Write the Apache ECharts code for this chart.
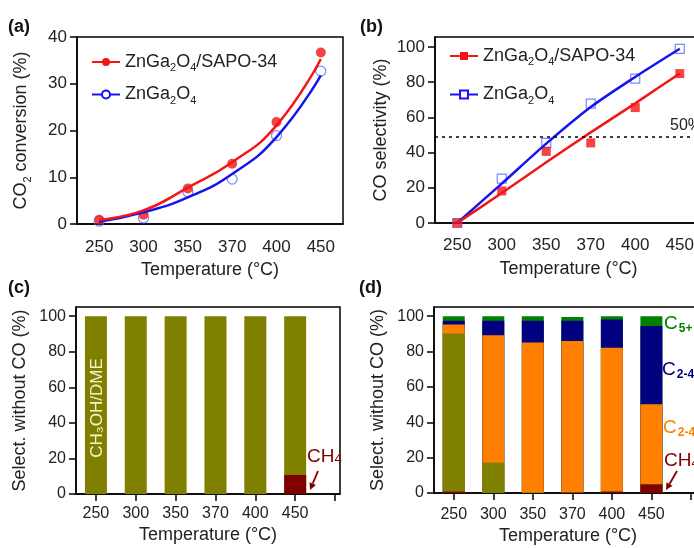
<!DOCTYPE html>
<html>
<head>
<meta charset="utf-8">
<script src="https://cdn.jsdelivr.net/npm/echarts@6/dist/echarts.min.js"></script>
<style>
html, body { margin: 0; padding: 0; background: #fff; }
#chart { width: 694px; height: 548px; }
</style>
</head>
<body>
<div id="chart"></div>
<script>
// temperatures (categories)
const temps = ['250', '300', '350', '370', '400', '450'];

// (a) CO2 conversion, measured points and fitted curves
const convHybridPts = [0.9, 2.0, 7.6, 12.9, 21.8, 36.7];
const convOxidePts = [0.6, 1.3, 6.9, 9.6, 18.9, 32.7];
const convHybridFit = [0.9, 2.9, 7.8, 13.2, 21.1, 35.3];
const convOxideFit = [0.5, 2.5, 5.7, 10.7, 18.6, 31.8];

// (b) CO selectivity
const selHybridPts = [0, 18.2, 40.7, 45.5, 65.6, 84.9];
const selOxidePts = [0, 25.2, 45.5, 67.8, 82.0, 99.0];
const selHybridFit = [0, 17.0, 34.5, 51.5, 68.0, 85.0];
const selOxideFit = [0, 22.4, 45.1, 65.9, 83.0, 99.0];
const refLine = 49;

// (c) ZnGa2O4 alone, selectivity without CO (bottom to top)
const cCH4 = [0, 0, 0, 0, 0, 10.7];
const cMeOH = [100, 100, 100, 100, 100, 89.3];

// (d) ZnGa2O4/SAPO-34, selectivity without CO (bottom to top)
const dCH4 = [0.8, 0, 0, 0.3, 0.8, 4.9];
const dMeOH = [89.4, 17.2, 0.4, 0, 0, 0];
const dOlefin = [5.1, 72.0, 84.7, 85.7, 81.3, 45.3];
const dParaffin = [2.1, 8.2, 12.3, 11.4, 16.0, 44.3];
const dC5 = [2.6, 2.6, 2.6, 2.2, 1.9, 5.5];

const yTicksBar = [0, 20, 40, 60, 80, 100];
const barPos = [1, 2, 3, 4, 5, 6];

const font = 'Liberation Sans, Arial, sans-serif';
const red = '#f41515';
const blue = '#1414f0';
const colors = { meoh: '#808000', ch4: '#800000', ole: '#ff8000', par: '#000080', c5: '#008000' };

const chart = echarts.init(document.getElementById('chart'));

const axisLine = { lineStyle: { color: '#000', width: 1.5 } };
const tick = { length: 7, lineStyle: { color: '#000', width: 1.5 } };
const subRich = {
  n: { fontSize: 18, fontFamily: font, color: '#222' },
  s: { fontSize: 11, fontFamily: font, color: '#222', padding: [12, 0, 0, 0] }
};

function catAxis(grid, margin, gap) {
  return {
    gridIndex: grid, type: 'category', data: temps, boundaryGap: true,
    axisLine: axisLine, axisTick: Object.assign({ alignWithLabel: true }, tick),
    axisLabel: { fontSize: 17, color: '#222', fontFamily: font, margin: margin },
    name: 'Temperature (°C)', nameLocation: 'middle', nameGap: gap,
    nameTextStyle: { fontSize: 18, color: '#222', fontFamily: font }
  };
}
function barXAxis(grid, max, margin, gap) {
  return {
    gridIndex: grid, type: 'value', min: 0.5, max: max,
    axisLine: Object.assign({ onZero: false }, axisLine),
    axisTick: Object.assign({ customValues: [1, 2, 3, 4, 5, 6, 7] }, tick),
    axisLabel: {
      customValues: barPos, fontSize: 16, color: '#222', fontFamily: font, margin: margin,
      formatter: v => temps[Math.round(v) - 1] || ''
    },
    splitLine: { show: false },
    name: 'Temperature (°C)', nameLocation: 'middle', nameGap: gap,
    nameTextStyle: { fontSize: 18, color: '#222', fontFamily: font }
  };
}
function valAxis(grid, max, ticks, name, gap, fs) {
  return {
    gridIndex: grid, type: 'value', min: 0, max: max,
    axisLine: Object.assign({ show: true }, axisLine),
    axisTick: Object.assign({ show: true, customValues: ticks }, tick),
    axisLabel: { customValues: ticks, fontSize: fs, color: '#222', fontFamily: font, margin: 10 },
    splitLine: { show: false },
    name: name, nameLocation: 'middle', nameGap: gap,
    nameTextStyle: { fontSize: 18, color: '#222', fontFamily: font, rich: subRich }
  };
}

function legendFmt(name) {
  const n = name.trim();
  if (n === 'ZnGa2O4/SAPO-34') return '{n|ZnGa}{s|2}{n|O}{s|4}{n|/SAPO-34}';
  return '{n|ZnGa}{s|2}{n|O}{s|4}';
}
const legendText = {
  fontFamily: font, fontSize: 18, color: '#222',
  rich: {
    n: { fontSize: 18, fontFamily: font, color: '#222' },
    s: { fontSize: 11, fontFamily: font, color: '#222', padding: [12, 0, 0, 0] }
  }
};

// stacked bars on a value x axis: each layer drawn from 0 to its running total,
// top layers first so the lower ones overlap them
function stackedBars(grid, layers) {
  const tops = [];
  let run = layers[0].data.map(() => 0);
  layers.forEach(l => {
    run = run.map((v, i) => v + l.data[i]);
    tops.push(run);
  });
  const out = [];
  for (let k = layers.length - 1; k >= 0; k--) {
    out.push({
      name: layers[k].name, type: 'bar', xAxisIndex: grid, yAxisIndex: grid,
      barWidth: 22, barGap: '-100%', itemStyle: { color: layers[k].color }, silent: true,
      data: tops[k].map((v, i) => [barPos[i], v])
    });
  }
  return out;
}

function arrow(x1, y1, x2, y2, color) {
  const ang = Math.atan2(y2 - y1, x2 - x1);
  const L = 7, W = 3.5;
  const bx = x2 - L * Math.cos(ang), by = y2 - L * Math.sin(ang);
  return {
    type: 'group', z: 100, children: [
      { type: 'line', shape: { x1: x1, y1: y1, x2: bx, y2: by }, style: { stroke: color, lineWidth: 1.8 } },
      { type: 'polygon', shape: { points: [[x2, y2],
        [bx + W * Math.sin(ang), by - W * Math.cos(ang)],
        [bx - W * Math.sin(ang), by + W * Math.cos(ang)]] }, style: { fill: color } }
    ]
  };
}
function label(x, y, text, color) {
  return {
    type: 'text', x: x, y: y, z: 100,
    style: {
      text: text, verticalAlign: 'middle', fill: color, font: '19px ' + font,
      rich: {
        a: { fontSize: 19, fill: color, fontFamily: font },
        b: { fontSize: 12, fill: color, fontFamily: font, fontWeight: 'bold', padding: [9, 0, 0, 1] },
        c: { fontSize: 12, fill: color, fontFamily: font, padding: [0, 0, 12, 0] },
        h: { fontSize: 13, fill: color, fontFamily: font, padding: [5, 0, 0, 0] }
      }
    }
  };
}

const option = {
  animation: false,
  textStyle: { fontFamily: font },
  grid: [
    { left: 77, top: 37, width: 266, height: 187, show: true, borderColor: '#000', borderWidth: 1.5, containLabel: false, outerBoundsMode: 'none' },
    { left: 435, top: 37, width: 267, height: 186, show: true, borderColor: '#000', borderWidth: 1.5, containLabel: false, outerBoundsMode: 'none' },
    { left: 76, top: 307, width: 264, height: 187, show: true, borderColor: '#000', borderWidth: 1.5, containLabel: false, outerBoundsMode: 'none' },
    { left: 434, top: 307, width: 268, height: 186, show: true, borderColor: '#000', borderWidth: 1.5, containLabel: false, outerBoundsMode: 'none' }
  ],
  xAxis: [
    catAxis(0, 15, 37),
    catAxis(1, 14, 37),
    barXAxis(2, 7.125, 12, 32),
    barXAxis(3, 7.28, 14, 34)
  ],
  yAxis: [
    valAxis(0, 40, [0, 10, 20, 30, 40], '{n|CO}{s|2}{n| conversion (%)}', 44, 17),
    valAxis(1, 105.7, [0, 20, 40, 60, 80, 100], 'CO selectivity (%)', 45, 17),
    valAxis(2, 105.2, yTicksBar, 'Select. without CO (%)', 47, 16),
    valAxis(3, 105.2, yTicksBar, 'Select. without CO (%)', 47, 16)
  ],
  legend: [
    {
      left: 86, top: 48, orient: 'vertical', itemWidth: 28, itemHeight: 10, itemGap: 12,
      data: ['ZnGa2O4/SAPO-34', 'ZnGa2O4'], formatter: legendFmt, textStyle: legendText, selectedMode: false
    },
    {
      left: 444, top: 42, orient: 'vertical', itemWidth: 28, itemHeight: 10, itemGap: 18,
      data: ['ZnGa2O4/SAPO-34 ', 'ZnGa2O4 '], formatter: legendFmt, textStyle: legendText, selectedMode: false
    }
  ],
  series: [
    // (a)
    { name: 'ZnGa2O4', type: 'line', xAxisIndex: 0, yAxisIndex: 0, data: convOxideFit, smooth: 0.5,
      showSymbol: false, symbol: 'emptyCircle', symbolSize: 9, lineStyle: { color: blue, width: 2.5 }, itemStyle: { color: blue } },
    { name: 'ZnGa2O4/SAPO-34', type: 'line', xAxisIndex: 0, yAxisIndex: 0, data: convHybridFit, smooth: 0.5,
      showSymbol: false, symbol: 'circle', symbolSize: 10, lineStyle: { color: red, width: 2.5 }, itemStyle: { color: red } },
    { type: 'scatter', xAxisIndex: 0, yAxisIndex: 0, data: convOxidePts, symbol: 'circle', symbolSize: 10,
      itemStyle: { color: 'rgba(255,255,255,0)', borderColor: '#5a68ff', borderWidth: 1.2 } },
    { type: 'scatter', xAxisIndex: 0, yAxisIndex: 0, data: convHybridPts, symbol: 'circle', symbolSize: 10,
      itemStyle: { color: red } },
    // (b)
    { name: 'ZnGa2O4 ', type: 'line', xAxisIndex: 1, yAxisIndex: 1, data: selOxideFit, smooth: 0.3,
      showSymbol: false, symbol: 'emptyRect', symbolSize: 9, lineStyle: { color: blue, width: 2.5 }, itemStyle: { color: blue } },
    { name: 'ZnGa2O4/SAPO-34 ', type: 'line', xAxisIndex: 1, yAxisIndex: 1, data: selHybridFit, smooth: 0.2,
      showSymbol: false, symbol: 'rect', symbolSize: 9, lineStyle: { color: red, width: 2.5 }, itemStyle: { color: red },
      markLine: {
        silent: true, symbol: 'none', data: [{ yAxis: refLine }],
        lineStyle: { color: '#000', type: [3, 4], width: 1.5 },
        label: { position: 'insideEndTop', formatter: '50%', fontSize: 16, color: '#222', fontFamily: font, distance: [0, 3] }
      } },
    { type: 'scatter', xAxisIndex: 1, yAxisIndex: 1, data: selOxidePts, symbol: 'rect', symbolSize: 9,
      itemStyle: { color: 'rgba(255,255,255,0)', borderColor: '#5a68ff', borderWidth: 1.2 } },
    { type: 'scatter', xAxisIndex: 1, yAxisIndex: 1, data: selHybridPts, symbol: 'rect', symbolSize: 9,
      itemStyle: { color: red } }
  ].concat(
    stackedBars(2, [
      { name: 'CH4 (c)', data: cCH4, color: colors.ch4 },
      { name: 'CH3OH/DME (c)', data: cMeOH, color: colors.meoh }
    ]),
    stackedBars(3, [
      { name: 'CH4', data: dCH4, color: colors.ch4 },
      { name: 'CH3OH/DME', data: dMeOH, color: colors.meoh },
      { name: 'C2-4 olefins', data: dOlefin, color: colors.ole },
      { name: 'C2-4 paraffins', data: dParaffin, color: colors.par },
      { name: 'C5+', data: dC5, color: colors.c5 }
    ])
  ),
  graphic: [
    { type: 'text', x: 8, y: 18, style: { text: '(a)', font: 'bold 18px ' + font, fill: '#111' } },
    { type: 'text', x: 360, y: 18, style: { text: '(b)', font: 'bold 18px ' + font, fill: '#111' } },
    { type: 'text', x: 8, y: 279, style: { text: '(c)', font: 'bold 18px ' + font, fill: '#111' } },
    { type: 'text', x: 359, y: 279, style: { text: '(d)', font: 'bold 18px ' + font, fill: '#111' } },
    { type: 'text', x: 97, y: 408, rotation: Math.PI / 2, z: 100,
      style: { text: 'CH₃OH/DME', font: '17px ' + font, fill: '#f2f2c8', align: 'center', verticalAlign: 'middle' } },
    label(307, 457, '{a|CH}{h|4}', colors.ch4),
    arrow(318, 471, 310, 490, colors.ch4),
    label(664, 324, '{a|C}{b|5+}', colors.c5),
    label(662, 370, '{a|C}{b|2-4}{c|o}', colors.par),
    label(663, 428, '{a|C}{b|2-4}{c|=}', colors.ole),
    label(664, 461, '{a|CH}{h|4}', colors.ch4),
    arrow(677, 471, 666, 490, colors.ch4)
  ]
};
chart.setOption(option);
</script>
</body>
</html>
